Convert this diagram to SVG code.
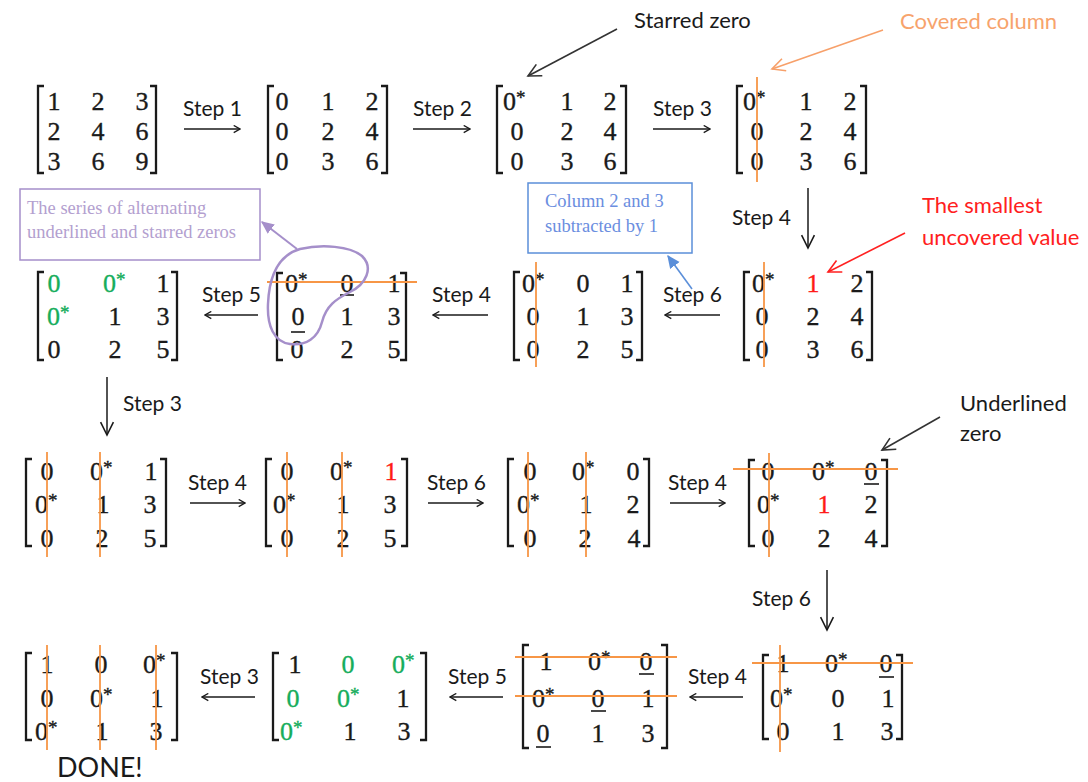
<svg xmlns="http://www.w3.org/2000/svg" width="1088" height="782" viewBox="0 0 1088 782">
  <style>
    .n { font-family: "Liberation Serif", "Times New Roman", serif; font-size: 26px; fill: #1a1a1a; stroke: #1a1a1a; stroke-width: 0.35; text-anchor: middle; }
    .s { text-anchor: start; }
    .st { font-size: 19px; }
    .g { fill: #16ad5c; stroke: #16ad5c; }
    .r { fill: #ff1a1a; stroke: #ff1a1a; }
    .br { fill: none; stroke: #1a1a1a; stroke-width: 2.3; }
    .cv { stroke: #f79646; stroke-width: 1.8; fill: none; }
    .ul { stroke: #1a1a1a; stroke-width: 1.6; }
    .lbl { font-family: "Lato", "Open Sans", sans-serif; font-size: 21px; fill: #1a1a1a; }
    .arr { stroke: #1a1a1a; stroke-width: 1.5; fill: none; marker-end: url(#ah); }
    .down { stroke: #1a1a1a; stroke-width: 1.5; fill: none; marker-end: url(#ahBig); }
    .note { font-family: "Lato", "Open Sans", sans-serif; font-size: 22px; }
    .boxt { font-family: "Liberation Serif", "Times New Roman", serif; font-size: 18.5px; }
  </style>
  <defs>
    <marker id="ah" viewBox="0 0 10 10" refX="9" refY="5" markerWidth="9" markerHeight="9" markerUnits="userSpaceOnUse" orient="auto">
      <path d="M2,1 L9,5 L2,9" fill="none" stroke="#1a1a1a" stroke-width="1.4"/>
    </marker>
    <marker id="ahBig" viewBox="0 0 10 10" refX="9" refY="5" markerWidth="16" markerHeight="16" markerUnits="userSpaceOnUse" orient="auto">
      <path d="M1,1 L9,5 L1,9" fill="none" stroke="#1a1a1a" stroke-width="1"/>
    </marker>
    <marker id="ahGrey" viewBox="0 0 10 10" refX="9" refY="5" markerWidth="16" markerHeight="16" markerUnits="userSpaceOnUse" orient="auto">
      <path d="M1,1 L9,5 L1,9" fill="none" stroke="#333" stroke-width="1"/>
    </marker>
    <marker id="ahOrange" viewBox="0 0 10 10" refX="9" refY="5" markerWidth="16" markerHeight="16" markerUnits="userSpaceOnUse" orient="auto">
      <path d="M1,1 L9,5 L1,9" fill="none" stroke="#f7a06a" stroke-width="1"/>
    </marker>
    <marker id="ahRed" viewBox="0 0 10 10" refX="9" refY="5" markerWidth="16" markerHeight="16" markerUnits="userSpaceOnUse" orient="auto">
      <path d="M1,1 L9,5 L1,9" fill="none" stroke="#ff2020" stroke-width="1"/>
    </marker>
    <marker id="ahPurple" viewBox="0 0 10 10" refX="9" refY="5" markerWidth="13" markerHeight="13" markerUnits="userSpaceOnUse" orient="auto">
      <path d="M0,0.5 L10,5 L0,9.5 z" fill="#a58fca"/>
    </marker>
    <marker id="ahBlue" viewBox="0 0 10 10" refX="9" refY="5" markerWidth="13" markerHeight="13" markerUnits="userSpaceOnUse" orient="auto">
      <path d="M0,0.5 L10,5 L0,9.5 z" fill="#5b8fd9"/>
    </marker>
  </defs>

  <rect width="1088" height="782" fill="#ffffff"/>

  <!-- ===== Row 1 ===== -->
  <g id="m1">
    <path class="br" d="M44,86 H38 V173 H44 M150,86 H156 V173 H150"/>
    <text class="n" x="54" y="110">1</text><text class="n" x="98" y="110">2</text><text class="n" x="142" y="110">3</text>
    <text class="n" x="54" y="140">2</text><text class="n" x="98" y="140">4</text><text class="n" x="142" y="140">6</text>
    <text class="n" x="54" y="170">3</text><text class="n" x="98" y="170">6</text><text class="n" x="142" y="170">9</text>
  </g>

  <g id="m2">
    <path class="br" d="M274,86 H268 V173 H274 M381,86 H387 V173 H381"/>
    <text class="n" x="282" y="110">0</text><text class="n" x="328" y="110">1</text><text class="n" x="372" y="110">2</text>
    <text class="n" x="282" y="140">0</text><text class="n" x="328" y="140">2</text><text class="n" x="372" y="140">4</text>
    <text class="n" x="282" y="170">0</text><text class="n" x="328" y="170">3</text><text class="n" x="372" y="170">6</text>
  </g>

  <g id="m3">
    <path class="br" d="M503,86 H497 V173 H503 M620,86 H626 V173 H620"/>
    <text class="n s" x="503" y="110">0<tspan class="st" dy="-6">*</tspan></text><text class="n" x="567" y="110">1</text><text class="n" x="610" y="110">2</text>
    <text class="n" x="517" y="140">0</text><text class="n" x="567" y="140">2</text><text class="n" x="610" y="140">4</text>
    <text class="n" x="517" y="170">0</text><text class="n" x="567" y="170">3</text><text class="n" x="610" y="170">6</text>
  </g>

  <g id="m4">
    <path class="br" d="M743,86 H737 V173 H743 M860,86 H866 V173 H860"/>
    <text class="n s" x="743" y="110">0<tspan class="st" dy="-6">*</tspan></text><text class="n" x="806" y="110">1</text><text class="n" x="850" y="110">2</text>
    <text class="n" x="757" y="140">0</text><text class="n" x="806" y="140">2</text><text class="n" x="850" y="140">4</text>
    <text class="n" x="757" y="170">0</text><text class="n" x="806" y="170">3</text><text class="n" x="850" y="170">6</text>
    <line class="cv" x1="757" y1="77" x2="757" y2="182"/>
  </g>

  <!-- ===== Row 2 ===== -->
  <g id="m5">
    <path class="br" d="M750,272 H744 V360 H750 M866,272 H872 V360 H866"/>
    <text class="n s" x="752" y="292">0<tspan class="st" dy="-6">*</tspan></text><text class="n r" x="813" y="292">1</text><text class="n" x="857" y="292">2</text>
    <text class="n" x="762" y="325">0</text><text class="n" x="813" y="325">2</text><text class="n" x="857" y="325">4</text>
    <text class="n" x="762" y="358">0</text><text class="n" x="813" y="358">3</text><text class="n" x="857" y="358">6</text>
    <line class="cv" x1="764" y1="262" x2="764" y2="367"/>
  </g>

  <g id="m6">
    <path class="br" d="M520,272 H514 V360 H520 M636,272 H642 V360 H636"/>
    <text class="n s" x="522" y="292">0<tspan class="st" dy="-6">*</tspan></text><text class="n" x="583" y="292">0</text><text class="n" x="627" y="292">1</text>
    <text class="n" x="533" y="325">0</text><text class="n" x="583" y="325">1</text><text class="n" x="627" y="325">3</text>
    <text class="n" x="533" y="358">0</text><text class="n" x="583" y="358">2</text><text class="n" x="627" y="358">5</text>
    <line class="cv" x1="536" y1="262" x2="536" y2="367"/>
  </g>

  <g id="m7">
    <path class="br" d="M283,273 H277 V360 H283 M400,273 H406 V360 H400"/>
    <text class="n s" x="285" y="292">0<tspan class="st" dy="-6">*</tspan></text><text class="n" x="347" y="292">0</text><text class="n" x="394" y="292">1</text>
    <text class="n" x="298" y="325">0</text><text class="n" x="347" y="325">1</text><text class="n" x="394" y="325">3</text>
    <text class="n" x="297" y="358">0</text><text class="n" x="347" y="358">2</text><text class="n" x="394" y="358">5</text>
    <line class="ul" x1="340" y1="295" x2="354" y2="295"/>
    <line class="ul" x1="291" y1="332" x2="305" y2="332"/>
    <line class="cv" x1="267" y1="282" x2="417" y2="282"/>
    <!-- loop around the alternating chain of zeros -->
    <path d="M300,249 C322,244 350,246 362,256 C374,268 366,284 350,292 C336,299 326,306 322,322 C318,338 306,346 290,344 C274,342 267,326 268,304 C269,280 276,256 300,249 Z" fill="none" stroke="#a58fca" stroke-width="2.5"/>
  </g>

  <g id="m8">
    <path class="br" d="M44,272 H38 V360 H44 M171,272 H177 V360 H171"/>
    <text class="n g" x="54" y="292">0</text><text class="n s g" x="103" y="292">0<tspan class="st" dy="-6">*</tspan></text><text class="n" x="163" y="292">1</text>
    <text class="n s g" x="47" y="325">0<tspan class="st" dy="-6">*</tspan></text><text class="n" x="115" y="325">1</text><text class="n" x="163" y="325">3</text>
    <text class="n" x="54" y="358">0</text><text class="n" x="115" y="358">2</text><text class="n" x="163" y="358">5</text>
  </g>

  <!-- ===== Row 3 ===== -->
  <g id="m9">
    <path class="br" d="M32,459 H26 V546 H32 M160,459 H166 V546 H160"/>
    <text class="n" x="47" y="480">0</text><text class="n s" x="90" y="480">0<tspan class="st" dy="-6">*</tspan></text><text class="n" x="151" y="480">1</text>
    <text class="n s" x="35" y="513">0<tspan class="st" dy="-6">*</tspan></text><text class="n" x="103" y="513">1</text><text class="n" x="150" y="513">3</text>
    <text class="n" x="47" y="547">0</text><text class="n" x="102" y="547">2</text><text class="n" x="150" y="547">5</text>
    <line class="cv" x1="47" y1="452" x2="47" y2="557"/>
    <line class="cv" x1="100" y1="452" x2="100" y2="557"/>
  </g>

  <g id="m10">
    <path class="br" d="M272,459 H266 V546 H272 M401,459 H407 V546 H401"/>
    <text class="n" x="287" y="480">0</text><text class="n s" x="330" y="480">0<tspan class="st" dy="-6">*</tspan></text><text class="n r" x="391" y="480">1</text>
    <text class="n s" x="273" y="513">0<tspan class="st" dy="-6">*</tspan></text><text class="n" x="343" y="513">1</text><text class="n" x="390" y="513">3</text>
    <text class="n" x="287" y="547">0</text><text class="n" x="343" y="547">2</text><text class="n" x="390" y="547">5</text>
    <line class="cv" x1="287" y1="452" x2="287" y2="557"/>
    <line class="cv" x1="342" y1="452" x2="342" y2="557"/>
  </g>

  <g id="m11">
    <path class="br" d="M514,459 H508 V546 H514 M643,459 H649 V546 H643"/>
    <text class="n" x="530" y="480">0</text><text class="n s" x="572" y="480">0<tspan class="st" dy="-6">*</tspan></text><text class="n" x="633" y="480">0</text>
    <text class="n s" x="517" y="513">0<tspan class="st" dy="-6">*</tspan></text><text class="n" x="586" y="513">1</text><text class="n" x="633" y="513">2</text>
    <text class="n" x="530" y="547">0</text><text class="n" x="585" y="547">2</text><text class="n" x="634" y="547">4</text>
    <line class="cv" x1="528" y1="452" x2="528" y2="557"/>
    <line class="cv" x1="586" y1="452" x2="586" y2="557"/>
  </g>

  <g id="m12">
    <path class="br" d="M755,460 H749 V546 H755 M881,460 H887 V546 H881"/>
    <text class="n" x="768" y="480">0</text><text class="n s" x="812" y="480">0<tspan class="st" dy="-6">*</tspan></text><text class="n" x="871" y="480">0</text>
    <text class="n s" x="757" y="513">0<tspan class="st" dy="-6">*</tspan></text><text class="n r" x="824" y="513">1</text><text class="n" x="871" y="513">2</text>
    <text class="n" x="768" y="547">0</text><text class="n" x="824" y="547">2</text><text class="n" x="871" y="547">4</text>
    <line class="ul" x1="864" y1="484" x2="879" y2="484"/>
    <line class="cv" x1="769" y1="453" x2="769" y2="557"/>
    <line class="cv" x1="733" y1="469" x2="898" y2="469"/>
  </g>

  <!-- ===== Row 4 ===== -->
  <g id="m13">
    <path class="br" d="M769,655 H763 V739 H769 M896,655 H902 V739 H896"/>
    <text class="n" x="783" y="672">1</text><text class="n s" x="825" y="672">0<tspan class="st" dy="-6">*</tspan></text><text class="n" x="886" y="672">0</text>
    <text class="n s" x="770" y="707">0<tspan class="st" dy="-6">*</tspan></text><text class="n" x="838" y="707">0</text><text class="n" x="888" y="707">1</text>
    <text class="n" x="783" y="740">0</text><text class="n" x="838" y="740">1</text><text class="n" x="887" y="740">3</text>
    <line class="ul" x1="879" y1="677" x2="894" y2="677"/>
    <line class="cv" x1="780" y1="645" x2="780" y2="752"/>
    <line class="cv" x1="752" y1="663" x2="913" y2="663"/>
  </g>

  <g id="m14">
    <path class="br" d="M529,645 H523 V748 H529 M661,645 H667 V748 H661"/>
    <text class="n" x="546" y="670">1</text><text class="n s" x="588" y="670">0<tspan class="st" dy="-6">*</tspan></text><text class="n" x="646" y="670">0</text>
    <text class="n s" x="532" y="707">0<tspan class="st" dy="-6">*</tspan></text><text class="n" x="598" y="707">0</text><text class="n" x="648" y="707">1</text>
    <text class="n" x="543" y="742">0</text><text class="n" x="598" y="742">1</text><text class="n" x="648" y="742">3</text>
    <line class="ul" x1="639" y1="674" x2="654" y2="674"/>
    <line class="ul" x1="591" y1="711" x2="606" y2="711"/>
    <line class="ul" x1="536" y1="747" x2="551" y2="747"/>
    <line class="cv" x1="515" y1="657" x2="677" y2="657"/>
    <line class="cv" x1="515" y1="696" x2="677" y2="696"/>
  </g>

  <g id="m15">
    <path class="br" d="M279,653 H273 V740 H279 M420,653 H426 V740 H420"/>
    <text class="n" x="295" y="673">1</text><text class="n g" x="348" y="673">0</text><text class="n s g" x="392" y="673">0<tspan class="st" dy="-6">*</tspan></text>
    <text class="n g" x="293" y="707">0</text><text class="n s g" x="337" y="707">0<tspan class="st" dy="-6">*</tspan></text><text class="n" x="403" y="707">1</text>
    <text class="n s g" x="280" y="740">0<tspan class="st" dy="-6">*</tspan></text><text class="n" x="350" y="740">1</text><text class="n" x="404" y="740">3</text>
  </g>

  <g id="m16">
    <path class="br" d="M32,653 H26 V740 H32 M171,653 H177 V740 H171"/>
    <text class="n" x="47" y="673">1</text><text class="n" x="101" y="673">0</text><text class="n s" x="143" y="673">0<tspan class="st" dy="-6">*</tspan></text>
    <text class="n" x="47" y="707">0</text><text class="n s" x="90" y="707">0<tspan class="st" dy="-6">*</tspan></text><text class="n" x="157" y="707">1</text>
    <text class="n s" x="35" y="740">0<tspan class="st" dy="-6">*</tspan></text><text class="n" x="102" y="740">1</text><text class="n" x="156" y="740">3</text>
    <line class="cv" x1="47" y1="645" x2="47" y2="750"/>
    <line class="cv" x1="100" y1="645" x2="100" y2="750"/>
    <line class="cv" x1="156" y1="645" x2="156" y2="750"/>
    <text class="lbl" x="57" y="777" style="font-size:27px">DONE!</text>
  </g>

  <!-- ===== Notes ===== -->
  <g id="note-starred">
    <text class="note" x="634" y="28" fill="#1a1a1a">Starred zero</text>
  </g>
  <g id="note-covered">
    <text class="note" x="900" y="29" fill="#f7a36c">Covered column</text>
  </g>
  <g id="note-smallest">
    <text class="note" x="922" y="213" fill="#ff2020">The smallest</text>
    <text class="note" x="922" y="245" fill="#ff2020">uncovered value</text>
  </g>
  <g id="note-underlined">
    <text class="note" x="960" y="411" fill="#1a1a1a">Underlined</text>
    <text class="note" x="960" y="441" fill="#1a1a1a">zero</text>
  </g>
  <g id="box-series">
    <rect x="20" y="189" width="240" height="71" fill="#ffffff" stroke="#a58fca" stroke-width="1.5"/>
    <text class="boxt" x="27" y="214" fill="#b3a0cf">The series of alternating</text>
    <text class="boxt" x="27" y="238" fill="#b3a0cf">underlined and starred zeros</text>
  </g>
  <g id="box-subtract">
    <rect x="528" y="183" width="164" height="70" fill="#ffffff" stroke="#5b8fd9" stroke-width="1.5"/>
    <text class="boxt" x="545" y="207" fill="#6b8ee0">Column 2 and 3</text>
    <text class="boxt" x="545" y="232" fill="#6b8ee0">subtracted by 1</text>
  </g>

  <!-- ===== Connectors ===== -->
  <g id="connectors">
    <!-- row 1 -->
    <text class="lbl" x="183" y="116">Step 1</text>
    <line class="arr" x1="184" y1="129" x2="240" y2="129"/>
    <text class="lbl" x="413" y="116">Step 2</text>
    <line class="arr" x1="413" y1="129" x2="470" y2="129"/>
    <text class="lbl" x="653" y="116">Step 3</text>
    <line class="arr" x1="653" y1="129" x2="710" y2="129"/>

    <!-- down to row 2 -->
    <text class="lbl" x="732" y="225">Step 4</text>
    <line class="down" x1="808" y1="188" x2="808" y2="248"/>

    <!-- row 2, right to left -->
    <text class="lbl" x="663" y="302">Step 6</text>
    <line class="arr" x1="720" y1="315" x2="665" y2="315"/>
    <text class="lbl" x="432" y="302">Step 4</text>
    <line class="arr" x1="488" y1="315" x2="433" y2="315"/>
    <text class="lbl" x="202" y="302">Step 5</text>
    <line class="arr" x1="258" y1="315" x2="205" y2="315"/>

    <!-- down to row 3 -->
    <text class="lbl" x="123" y="411">Step 3</text>
    <line class="down" x1="107" y1="377" x2="107" y2="435"/>

    <!-- row 3 -->
    <text class="lbl" x="188" y="490">Step 4</text>
    <line class="arr" x1="190" y1="503" x2="245" y2="503"/>
    <text class="lbl" x="427" y="490">Step 6</text>
    <line class="arr" x1="428" y1="503" x2="483" y2="503"/>
    <text class="lbl" x="668" y="490">Step 4</text>
    <line class="arr" x1="670" y1="503" x2="725" y2="503"/>

    <!-- down to row 4 -->
    <text class="lbl" x="752" y="606">Step 6</text>
    <line class="down" x1="827" y1="570" x2="827" y2="630"/>

    <!-- row 4, right to left -->
    <text class="lbl" x="688" y="684">Step 4</text>
    <line class="arr" x1="743" y1="697" x2="690" y2="697"/>
    <text class="lbl" x="448" y="684">Step 5</text>
    <line class="arr" x1="503" y1="697" x2="450" y2="697"/>
    <text class="lbl" x="200" y="684">Step 3</text>
    <line class="arr" x1="255" y1="697" x2="202" y2="697"/>

    <!-- note pointers -->
    <line x1="617" y1="29" x2="528" y2="76" stroke="#333" stroke-width="1.6" marker-end="url(#ahGrey)"/>
    <line x1="883" y1="30" x2="772" y2="69" stroke="#f7a06a" stroke-width="1.6" marker-end="url(#ahOrange)"/>
    <line x1="905" y1="233" x2="828" y2="272" stroke="#ff2020" stroke-width="1.6" marker-end="url(#ahRed)"/>
    <line x1="940" y1="417" x2="882" y2="450" stroke="#333" stroke-width="1.6" marker-end="url(#ahGrey)"/>
    <line x1="297" y1="249" x2="262" y2="222" stroke="#a58fca" stroke-width="2" marker-end="url(#ahPurple)"/>
    <line x1="692" y1="289" x2="668" y2="256" stroke="#5b8fd9" stroke-width="1.6" marker-end="url(#ahBlue)"/>
  </g>
</svg>
